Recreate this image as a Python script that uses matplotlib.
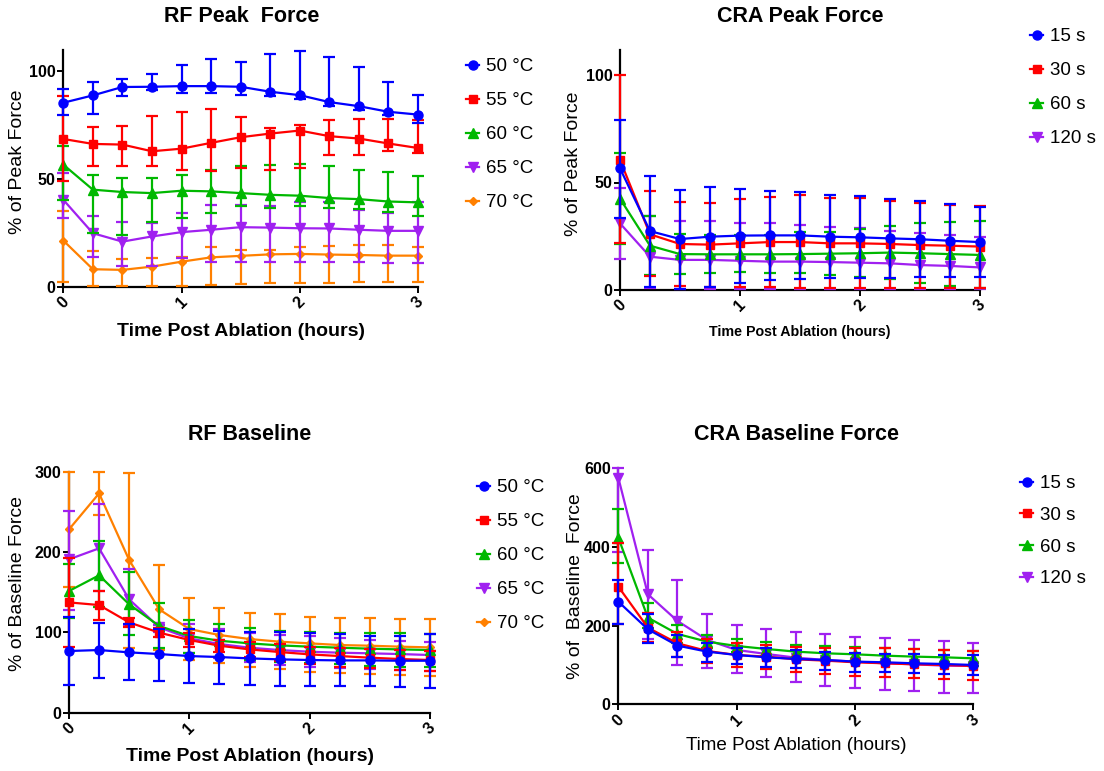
import numpy as np
import matplotlib
matplotlib.use("Agg")
import matplotlib.pyplot as plt

plt.rcParams['font.family'] = ['Liberation Sans', 'DejaVu Sans']

# ---------------- data ----------------
hours = [0, 0.25, 0.5, 0.75, 1, 1.25, 1.5, 1.75, 2, 2.25, 2.5, 2.75, 3]

rf_labels = ["50 \u00b0C", "55 \u00b0C", "60 \u00b0C", "65 \u00b0C", "70 \u00b0C"]
cra_labels = ["15 s", "30 s", "60 s", "120 s"]

# RF peak force (% of peak force): mean, upper and lower error-bar ends
rf_peak_mean = [
    [85.3, 88.7, 92.6, 92.7, 93.0, 93.0, 92.7, 90.4, 88.8, 85.6, 83.7, 81.1, 79.8],
    [68.5, 66.2, 65.9, 62.8, 64.0, 66.7, 69.3, 71.0, 72.4, 69.8, 68.7, 66.4, 64.3],
    [56.6, 45.0, 43.9, 43.4, 44.5, 44.2, 43.4, 42.6, 42.2, 41.1, 40.6, 39.5, 39.1],
    [40.3, 24.8, 20.9, 23.3, 25.3, 26.4, 27.6, 27.4, 27.1, 27.0, 26.4, 25.9, 25.9],
    [21.4, 8.1, 7.8, 9.3, 11.6, 13.6, 14.3, 15.0, 15.2, 14.9, 14.7, 14.4, 14.4],
]
rf_peak_upper = [
    [91.8, 94.9, 96.1, 98.4, 102.8, 105.7, 104.3, 108.1, 109.3, 106.5, 101.9, 95.0, 89.1],
    [88.4, 74.0, 74.3, 79.1, 80.9, 82.2, 78.8, 73.6, 74.9, 77.2, 77.8, 77.8, 77.5],
    [65.1, 51.6, 50.4, 50.4, 51.9, 54.3, 55.8, 56.6, 57.1, 55.8, 54.3, 53.2, 51.2],
    [52.7, 32.6, 30.0, 29.5, 34.1, 38.0, 38.0, 37.2, 39.5, 39.5, 35.7, 34.1, 39.5],
    [35.3, 16.7, 12.7, 13.2, 14.0, 18.6, 17.1, 17.1, 18.6, 18.9, 19.4, 19.4, 18.6],
]
rf_peak_lower = [
    [79.5, 80.2, 88.4, 91.0, 89.9, 89.9, 89.1, 88.4, 87.1, 84.0, 82.0, 79.5, 76.0],
    [49.0, 55.8, 56.0, 55.8, 54.3, 53.5, 55.0, 54.3, 55.0, 61.2, 61.2, 62.8, 62.0],
    [40.3, 24.8, 24.0, 30.2, 31.8, 34.1, 37.2, 36.4, 37.5, 36.4, 36.0, 34.7, 32.9],
    [31.8, 13.6, 9.8, 9.6, 13.5, 11.6, 11.6, 11.6, 11.6, 11.6, 11.3, 10.9, 10.9],
    [2.3, 0.3, 0.3, 0.5, 0.5, 0.8, 1.2, 1.6, 1.6, 1.9, 2.2, 2.2, 2.3],
]

# CRA peak force (% of peak force)
cra_peak_mean = [
    [56.6, 27.4, 23.7, 24.8, 25.3, 25.4, 25.4, 24.8, 24.5, 24.0, 23.6, 22.9, 22.3],
    [60.5, 25.9, 21.4, 21.1, 21.7, 22.3, 22.3, 21.7, 21.7, 21.4, 20.9, 20.6, 20.2],
    [42.5, 20.6, 16.7, 16.6, 16.6, 16.6, 16.7, 16.9, 17.1, 17.4, 17.1, 16.7, 16.3],
    [31.0, 15.5, 14.0, 14.0, 13.6, 13.2, 13.2, 13.0, 12.7, 12.4, 11.6, 11.2, 10.5],
]
cra_peak_upper = [
    [79.1, 53.2, 46.5, 47.8, 47.1, 46.2, 45.7, 44.2, 43.9, 42.3, 41.2, 40.2, 38.8],
    [100.0, 46.2, 40.8, 40.5, 42.2, 43.4, 44.0, 42.9, 42.6, 41.6, 40.3, 39.7, 39.2],
    [63.9, 34.6, 26.0, 25.6, 25.6, 25.6, 26.8, 27.1, 28.2, 29.9, 31.0, 31.5, 32.1],
    [47.6, 34.4, 32.1, 32.1, 31.3, 31.0, 30.2, 29.1, 28.7, 27.6, 26.4, 25.6, 24.8],
]
cra_peak_lower = [
    [33.3, 1.2, 0.3, 1.6, 3.4, 4.7, 5.1, 5.4, 5.4, 5.7, 5.9, 5.9, 5.9],
    [21.7, 6.5, 2.0, 1.6, 1.2, 1.2, 1.1, 0.9, 0.9, 0.9, 0.8, 0.8, 0.8],
    [21.4, 7.0, 7.3, 7.8, 8.5, 8.1, 7.8, 6.8, 5.9, 5.0, 3.4, 2.0, 0.8],
    [14.3, 0.8, 0.3, 0.3, 0.3, 0.3, 0.3, 0.3, 0.3, 0.3, 0.3, 0.3, 0.3],
]

# RF baseline force (% of baseline force)
rf_base_mean = [
    [76.8, 78.0, 75.1, 73.0, 70.5, 69.3, 67.6, 66.4, 65.6, 65.1, 65.1, 64.7, 64.7],
    [137.3, 134.0, 112.4, 99.6, 90.5, 83.4, 78.8, 75.5, 72.6, 70.5, 68.5, 66.8, 65.6],
    [151.5, 171.0, 134.9, 107.9, 95.4, 89.6, 86.3, 83.8, 82.2, 80.9, 79.7, 78.8, 78.0],
    [190.9, 204.6, 141.1, 106.2, 92.5, 85.5, 80.9, 78.0, 75.9, 74.7, 73.9, 73.0, 71.8],
    [228.2, 273.0, 190.0, 128.6, 104.1, 96.7, 91.7, 88.4, 86.3, 84.2, 83.4, 82.2, 81.3],
]
rf_base_upper = [
    [118.7, 112.0, 110.4, 103.7, 103.7, 102.1, 100.4, 100.0, 98.8, 97.9, 95.4, 95.4, 97.9],
    [192.9, 151.9, 117.4, 105.0, 98.8, 90.5, 87.6, 85.5, 82.2, 80.9, 78.8, 78.0, 76.8],
    [184.6, 213.7, 174.7, 136.1, 115.4, 110.4, 105.0, 102.1, 100.0, 98.8, 98.8, 98.8, 97.5],
    [251.5, 259.3, 178.8, 109.1, 110.4, 103.7, 98.8, 96.7, 95.4, 92.5, 90.5, 89.6, 88.4],
    [300.0, 300.0, 298.8, 183.4, 142.3, 129.9, 124.5, 122.4, 119.5, 118.3, 117.4, 116.6, 116.2],
]
rf_base_lower = [
    [34.4, 42.7, 40.7, 39.8, 37.3, 35.7, 34.4, 33.6, 33.6, 33.2, 33.2, 32.4, 31.1],
    [82.2, 115.4, 107.1, 94.6, 82.2, 75.9, 68.9, 64.7, 60.6, 57.3, 55.2, 53.1, 52.3],
    [118.0, 132.0, 96.7, 80.1, 73.9, 68.9, 65.6, 63.5, 61.4, 60.2, 58.5, 57.3, 56.4],
    [127.8, 151.9, 109.1, 100.8, 73.9, 67.6, 62.7, 59.3, 56.4, 55.2, 53.9, 53.1, 52.3],
    [156.0, 246.0, 80.1, 78.0, 65.6, 61.4, 57.3, 53.9, 51.0, 49.8, 48.1, 46.9, 46.1],
]

# CRA baseline force (% of baseline force)
cra_base_mean = [
    [261.0, 190.7, 149.2, 133.9, 125.4, 119.5, 115.3, 112.7, 108.5, 106.8, 104.2, 102.5, 100.0],
    [299.2, 194.9, 155.1, 135.6, 125.4, 121.2, 114.4, 111.0, 106.8, 104.2, 101.7, 100.0, 97.5],
    [423.7, 220.3, 178.8, 159.3, 148.3, 140.7, 133.9, 129.7, 127.1, 123.7, 121.2, 119.5, 116.9],
    [576.3, 279.7, 211.9, 163.6, 138.1, 128.0, 118.6, 112.7, 108.5, 104.2, 101.7, 98.3, 97.5],
]
cra_base_upper = [
    [316.0, 228.8, 176.3, 155.1, 144.1, 142.4, 138.1, 133.9, 129.7, 128.0, 127.1, 125.4, 125.4],
    [409.3, 231.4, 184.7, 165.3, 155.1, 150.8, 144.9, 142.4, 142.4, 142.4, 140.7, 138.1, 135.6],
    [495.8, 256.8, 201.7, 176.3, 166.1, 159.3, 150.8, 148.3, 144.9, 142.4, 139.8, 138.1, 136.4],
    [600.0, 392.4, 316.1, 229.7, 201.7, 191.5, 183.1, 178.0, 172.0, 167.8, 163.6, 161.0, 156.8],
]
cra_base_lower = [
    [203.4, 155.1, 121.2, 108.5, 101.7, 95.8, 91.5, 87.3, 83.1, 81.4, 78.8, 77.1, 74.6],
    [203.4, 157.6, 121.2, 105.9, 94.1, 89.0, 81.4, 76.3, 72.9, 70.3, 67.8, 64.4, 61.9],
    [358.5, 193.2, 155.1, 142.4, 132.2, 123.7, 118.6, 112.7, 110.2, 106.8, 104.2, 101.7, 98.3],
    [388.0, 165.0, 100.0, 91.5, 78.8, 68.6, 55.9, 47.5, 42.4, 36.4, 33.9, 29.7, 29.7],
]

colors = ["#0000FF", "#FF0000", "#00B800", "#A020F0", "#FF8000"]
markers = ["o", "s", "^", "v", "D"]
msizes = [6.5, 6.0, 6.5, 6.5, 4.5]

W, H = 1104, 771
fig = plt.figure(figsize=(W / 100, H / 100), dpi=100)


def px_axes(left, top, right, bottom):
    return fig.add_axes([left / W, 1 - bottom / H, (right - left) / W, (bottom - top) / H])


def draw_panel(ax, means, uppers, lowers, ymax, yticks):
    handles = []
    x = np.array(hours)
    order = list(range(len(means)))[::-1]
    for i in order:
        m = np.array(means[i])
        up = np.clip(np.array(uppers[i]) - m, 0, None)
        lo = np.clip(m - np.array(lowers[i]), 0, None)
        cont = ax.errorbar(x, m, yerr=[lo, up], color=colors[i], marker=markers[i],
                           ms=msizes[i], lw=1.6, elinewidth=1.6, capsize=4,
                           capthick=1.6, zorder=3 + (len(means) - i))
        for art in cont.get_children():
            art.set_clip_on(False)
        handles.append((i, cont.lines[0]))
    handles.sort(key=lambda t: t[0])
    ax.set_xlim(0, 3)
    ax.set_ylim(0, ymax)
    ax.set_xticks([0, 1, 2, 3])
    ax.set_yticks(yticks)
    ax.set_xticklabels(["0", "1", "2", "3"], rotation=45, ha="center",
                       fontsize=11.5, fontweight="bold")
    ax.set_yticklabels([str(t) for t in yticks], fontsize=11.5, fontweight="bold")
    for s in ["top", "right"]:
        ax.spines[s].set_visible(False)
    for s in ["left", "bottom"]:
        ax.spines[s].set_linewidth(1.6)
    ax.tick_params(axis="both", length=4, width=1.4, pad=1.5, direction="out")
    return [h for _, h in handles]


def add_legend(ax, handles, labels, left, top, spacing):
    ax.legend(handles, labels, loc="upper left",
              bbox_to_anchor=(left / W, 1 - top / H), bbox_transform=fig.transFigure,
              frameon=False, borderpad=0, borderaxespad=0, handlelength=0.7,
              handletextpad=0.35, labelspacing=spacing, prop={"size": 13.5})


def set_labels(ax, xlabel, ylabel, xw, xs, ys, xl_dy, yl_dx, yl_y, w_px, h_px):
    ax.set_xlabel(xlabel, fontsize=xs, fontweight=xw)
    ax.set_ylabel(ylabel, fontsize=ys)
    ax.xaxis.label.set_va("center")
    ax.yaxis.label.set_va("center")
    ax.xaxis.set_label_coords(0.5, -xl_dy / h_px)
    ax.yaxis.set_label_coords(-yl_dx / w_px, yl_y)


# panel geometry in pixels: left, top, right, bottom
g1 = (63.3, 50, 418, 286.7)
g2 = (620, 50, 980, 290)
g3 = (69, 471.7, 430, 712.7)
g4 = (618.3, 468.3, 973.3, 704.3)

ax1 = px_axes(*g1)
ax2 = px_axes(*g2)
ax3 = px_axes(*g3)
ax4 = px_axes(*g4)

h1 = draw_panel(ax1, rf_peak_mean, rf_peak_upper, rf_peak_lower,
                (g1[3] - g1[1]) / 2.1567, [0, 50, 100])
h2 = draw_panel(ax2, cra_peak_mean, cra_peak_upper, cra_peak_lower,
                (g2[3] - g2[1]) / 2.15, [0, 50, 100])
h3 = draw_panel(ax3, rf_base_mean, rf_base_upper, rf_base_lower,
                300, [0, 100, 200, 300])
h4 = draw_panel(ax4, cra_base_mean, cra_base_upper, cra_base_lower,
                600, [0, 200, 400, 600])

set_labels(ax1, "Time Post Ablation (hours)", "% of Peak Force", "bold", 14, 14,
           45, 45.3, 0.527, g1[2] - g1[0], g1[3] - g1[1])
set_labels(ax2, "Time Post Ablation (hours)", "% of Peak Force", "bold", 10.3, 14,
           41.7, 46, 0.525, g2[2] - g2[0], g2[3] - g2[1])
set_labels(ax3, "Time Post Ablation (hours)", "% of Baseline Force", "bold", 14, 14,
           44, 51, 0.538, g3[2] - g3[0], g3[3] - g3[1])
set_labels(ax4, "Time Post Ablation (hours)", "% of  Baseline  Force", "normal", 13.6, 14,
           41.4, 43, 0.5, g4[2] - g4[0], g4[3] - g4[1])

add_legend(ax1, h1, rf_labels, 466, 58, 0.9)
add_legend(ax2, h2, cra_labels, 1030, 28, 0.9)
add_legend(ax3, h3, rf_labels, 477, 479, 0.9)
add_legend(ax4, h4, cra_labels, 1020, 475, 0.78)

title_kw = dict(ha="center", va="center", fontsize=15.5, fontweight="bold")
fig.text(242 / W, 1 - 16 / H, "RF Peak  Force", **title_kw)
fig.text(800 / W, 1 - 16 / H, "CRA Peak Force", **title_kw)
fig.text(250 / W, 1 - 435 / H, "RF Baseline", **title_kw)
fig.text(796 / W, 1 - 435 / H, "CRA Baseline Force", **title_kw)

fig.savefig("out.png", dpi=100, facecolor="white")
